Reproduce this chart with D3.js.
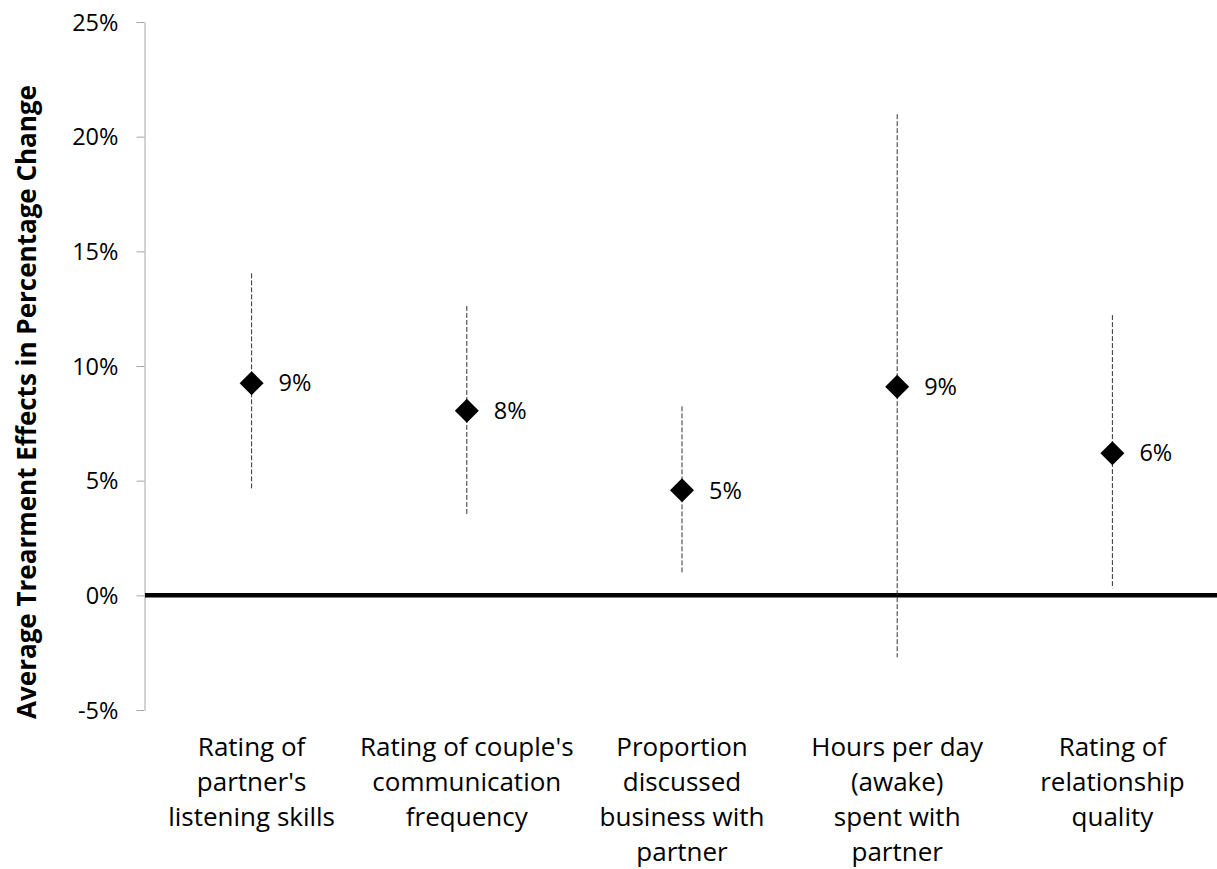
<!DOCTYPE html>
<meta charset="utf-8">
<script src="https://d3js.org/d3.v7.min.js"></script>
<style>
  body { margin: 0; background: #fff; }
  svg text { font-family: 'Open Sans', 'Noto Sans', sans-serif; fill: #000; }
</style>
<div id="chart"></div>
<script>
// categories (line breaks as in the original labels)
var categories = [
  "Rating of\npartner's\nlistening skills",
  "Rating of couple's\ncommunication\nfrequency",
  "Proportion\ndiscussed\nbusiness with\npartner",
  "Hours per day\n(awake)\nspent with\npartner",
  "Rating of\nrelationship\nquality"
];
// point estimates and confidence bounds
var effects = [0.0925, 0.0805, 0.0458, 0.091, 0.062];
var lower   = [0.0458, 0.0349, 0.0092, -0.027, 0.003];
var upper   = [0.1404, 0.1262, 0.0824, 0.2098, 0.1222];
var pointLabels = ["9%", "8%", "5%", "9%", "6%"];
var yTicks = [-0.05, 0, 0.05, 0.10, 0.15, 0.20, 0.25];

var W = 1217, H = 869;

var svg = d3.select("#chart").append("svg")
  .attr("width", W).attr("height", H);

var x = d3.scaleBand()
  .domain(categories)
  .range([144, 1220]);

var y = d3.scaleLinear()
  .domain([-0.05, 0.25])
  .range([710, 22]);

// y axis
var pct = d3.format(".0%");
var yAxis = svg.append("g")
  .attr("transform", "translate(144.5,0)")
  .call(d3.axisLeft(y).tickValues(yTicks)
    .tickFormat(function(d) { return pct(d).replace("\u2212", "-"); })
    .tickSize(8).tickPadding(18).tickSizeOuter(0));
yAxis.select(".domain").attr("stroke", "#a6a6a6");
yAxis.selectAll(".tick line").attr("stroke", "#a6a6a6");
yAxis.selectAll(".tick text")
  .style("font-size", "23.5px")
  .attr("dy", "0.35em");

// y axis title
svg.append("text")
  .attr("transform", "translate(36,402) rotate(-90)")
  .attr("text-anchor", "middle")
  .style("font-size", "26px")
  .style("font-weight", "bold")
  .text("Average Trearment Effects in Percentage Change");

// zero line
svg.append("line")
  .attr("x1", 145).attr("x2", W)
  .attr("y1", y(0)).attr("y2", y(0))
  .attr("stroke", "#000")
  .attr("stroke-width", 4.5);

var idx = d3.range(categories.length);

// error bars
svg.append("g").selectAll("line")
  .data(idx)
  .enter().append("line")
    .attr("x1", function(i) { return x(categories[i]) + x.bandwidth() / 2; })
    .attr("x2", function(i) { return x(categories[i]) + x.bandwidth() / 2; })
    .attr("y1", function(i) { return y(upper[i]); })
    .attr("y2", function(i) { return y(lower[i]); })
    .attr("stroke", "#333")
    .attr("stroke-width", 1)
    .attr("stroke-dasharray", "5,2");

// diamonds
svg.append("g").selectAll("path")
  .data(idx)
  .enter().append("path")
    .attr("d", "M0,-12L12,0L0,12L-12,0Z")
    .attr("transform", function(i) {
      return "translate(" + (x(categories[i]) + x.bandwidth() / 2) + "," + y(effects[i]) + ")";
    })
    .attr("fill", "#000");

// point labels
svg.append("g").selectAll("text")
  .data(idx)
  .enter().append("text")
    .attr("x", function(i) { return x(categories[i]) + x.bandwidth() / 2 + 27; })
    .attr("y", function(i) { return y(effects[i]); })
    .attr("dy", "0.35em")
    .style("font-size", "23.5px")
    .text(function(i) { return pointLabels[i]; });

// category labels
var catText = svg.append("g").selectAll("text")
  .data(categories)
  .enter().append("text")
    .attr("text-anchor", "middle")
    .attr("x", function(d) { return x(d) + x.bandwidth() / 2; })
    .attr("y", 756)
    .style("font-size", "26px");
catText.selectAll("tspan")
  .data(function(d) { return d.split("\n").map(function(s) { return {s: s, c: d}; }); })
  .enter().append("tspan")
    .attr("x", function(t) { return x(t.c) + x.bandwidth() / 2; })
    .attr("dy", function(t, i) { return i === 0 ? 0 : 35; })
    .text(function(t) { return t.s; });
</script>
